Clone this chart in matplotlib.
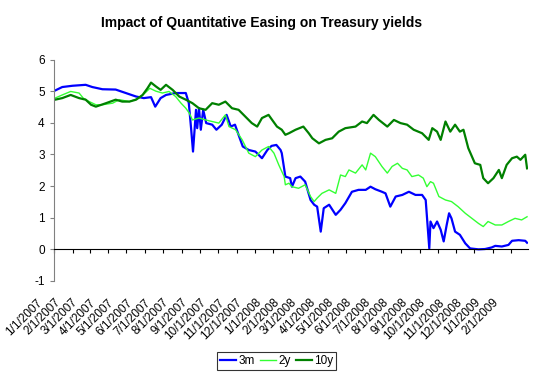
import matplotlib
matplotlib.use("Agg")
import matplotlib.pyplot as plt
import matplotlib.dates as mdates
import matplotlib.transforms as mtransforms
import pandas as pd

# ─────────────────────────────────────────────
# Dados
# ─────────────────────────────────────────────

dates_3m = [
    "2007-01-02", "2007-01-14", "2007-01-31", "2007-02-22", "2007-03-05", "2007-03-22",
    "2007-04-13", "2007-04-30", "2007-05-17", "2007-05-30", "2007-06-11", "2007-06-18",
    "2007-06-27", "2007-07-06", "2007-07-22", "2007-08-08", "2007-08-13", "2007-08-17",
    "2007-08-20", "2007-08-25", "2007-08-27", "2007-08-30", "2007-09-02", "2007-09-06",
    "2007-09-11", "2007-09-21", "2007-09-28", "2007-10-07", "2007-10-15", "2007-10-22",
    "2007-10-29", "2007-11-06", "2007-11-11", "2007-11-21", "2007-12-02", "2007-12-13",
    "2007-12-22", "2007-12-29", "2008-01-06", "2008-01-13", "2008-01-15", "2008-01-21",
    "2008-01-29", "2008-02-01", "2008-02-07", "2008-02-15", "2008-02-23", "2008-03-03",
    "2008-03-09", "2008-03-14", "2008-03-20", "2008-03-25", "2008-04-03", "2008-04-14",
    "2008-04-22", "2008-04-30", "2008-05-11", "2008-05-22", "2008-06-03", "2008-06-11",
    "2008-06-19", "2008-06-30", "2008-07-06", "2008-07-14", "2008-07-23", "2008-08-03",
    "2008-08-14", "2008-08-25", "2008-09-05", "2008-09-11", "2008-09-17", "2008-09-19",
    "2008-09-24", "2008-09-30", "2008-10-06", "2008-10-11", "2008-10-16", "2008-10-20",
    "2008-10-24", "2008-10-30", "2008-11-07", "2008-11-16", "2008-11-24", "2008-12-08",
    "2008-12-19", "2008-12-30", "2009-01-05", "2009-01-16", "2009-01-27", "2009-02-02",
    "2009-02-13", "2009-02-24", "2009-02-27",
]
yield_3m = [
    5.02, 5.13, 5.17, 5.20, 5.13, 5.06,
    5.05, 4.94, 4.83, 4.78, 4.81, 4.51,
    4.78, 4.88, 4.94, 4.94, 4.62, 3.78,
    3.09, 4.41, 3.83, 4.46, 3.78, 4.41,
    3.99, 3.94, 3.78, 3.94, 4.25, 3.88,
    3.94, 3.51, 3.25, 3.14, 3.09, 2.88,
    3.14, 3.27, 3.30, 3.14, 3.04, 2.30,
    2.25, 1.98, 2.25, 2.30, 2.14, 1.56,
    1.41, 1.35, 0.56, 1.30, 1.41, 1.09,
    1.25, 1.46, 1.82, 1.88, 1.88, 1.98,
    1.90, 1.82, 1.77, 1.35, 1.67, 1.72,
    1.82, 1.72, 1.72, 1.56, 0.03, 0.88,
    0.67, 0.88, 0.62, 0.25, 0.77, 1.14,
    0.98, 0.56, 0.46, 0.19, 0.03, 0.00,
    0.01, 0.06, 0.11, 0.09, 0.14, 0.27,
    0.29, 0.27, 0.21,
]

dates_2y = [
    "2007-01-02", "2007-01-14", "2007-01-28", "2007-02-11", "2007-02-18", "2007-02-28",
    "2007-03-11", "2007-03-22", "2007-04-08", "2007-04-19", "2007-05-06", "2007-05-22",
    "2007-06-02", "2007-06-09", "2007-06-19", "2007-06-30", "2007-07-11", "2007-07-22",
    "2007-07-31", "2007-08-08", "2007-08-14", "2007-08-19", "2007-08-30", "2007-09-10",
    "2007-09-21", "2007-10-02", "2007-10-13", "2007-10-19", "2007-10-30", "2007-11-10",
    "2007-11-21", "2007-12-02", "2007-12-13", "2007-12-24", "2008-01-02", "2008-01-10",
    "2008-01-19", "2008-01-21", "2008-01-27", "2008-02-01", "2008-02-12", "2008-02-23",
    "2008-03-03", "2008-03-09", "2008-03-14", "2008-03-22", "2008-04-03", "2008-04-14",
    "2008-04-22", "2008-04-30", "2008-05-06", "2008-05-17", "2008-05-28", "2008-06-03",
    "2008-06-11", "2008-06-19", "2008-06-30", "2008-07-09", "2008-07-17", "2008-07-26",
    "2008-08-03", "2008-08-11", "2008-08-19", "2008-08-30", "2008-09-07", "2008-09-13",
    "2008-09-19", "2008-09-24", "2008-10-03", "2008-10-14", "2008-10-24", "2008-11-04",
    "2008-11-16", "2008-11-27", "2008-12-08", "2008-12-16", "2008-12-24", "2009-01-05",
    "2009-01-16", "2009-01-27", "2009-02-07", "2009-02-18", "2009-02-27",
]
yield_2y = [
    4.78, 4.88, 4.99, 4.94, 4.78, 4.67,
    4.57, 4.57, 4.62, 4.73, 4.67, 4.78,
    4.96, 5.09, 5.00, 4.94, 4.99, 4.83,
    4.62, 4.46, 4.30, 4.09, 4.15, 4.09,
    4.04, 3.99, 4.25, 3.88, 3.78, 3.46,
    3.04, 2.93, 3.14, 3.25, 3.04, 2.67,
    2.30, 2.04, 2.09, 1.98, 1.93, 2.04,
    1.67, 1.51, 1.62, 1.77, 1.88, 1.77,
    2.35, 2.30, 2.51, 2.41, 2.67, 2.51,
    3.04, 2.93, 2.62, 2.41, 2.62, 2.72,
    2.56, 2.51, 2.30, 2.35, 2.25, 1.98,
    2.14, 2.09, 1.67, 1.56, 1.51, 1.35,
    1.14, 0.98, 0.82, 0.72, 0.88, 0.77,
    0.77, 0.88, 0.98, 0.93, 1.03,
]

dates_10y = [
    "2007-01-02", "2007-01-14", "2007-01-28", "2007-02-11", "2007-02-22", "2007-03-03",
    "2007-03-11", "2007-03-28", "2007-04-13", "2007-04-24", "2007-05-06", "2007-05-17",
    "2007-05-28", "2007-06-05", "2007-06-11", "2007-06-19", "2007-06-27", "2007-07-06",
    "2007-07-17", "2007-07-28", "2007-08-08", "2007-08-19", "2007-08-30", "2007-09-10",
    "2007-09-21", "2007-10-02", "2007-10-13", "2007-10-24", "2007-11-04", "2007-11-15",
    "2007-11-26", "2007-12-05", "2007-12-13", "2007-12-24", "2007-12-30", "2008-01-07",
    "2008-01-15", "2008-01-21", "2008-01-27", "2008-02-07", "2008-02-20", "2008-02-29",
    "2008-03-06", "2008-03-17", "2008-03-28", "2008-04-08", "2008-04-19", "2008-04-30",
    "2008-05-17", "2008-05-28", "2008-06-05", "2008-06-16", "2008-06-25", "2008-07-09",
    "2008-07-20", "2008-07-31", "2008-08-11", "2008-08-22", "2008-09-05", "2008-09-16",
    "2008-09-22", "2008-09-30", "2008-10-06", "2008-10-14", "2008-10-22", "2008-10-30",
    "2008-11-07", "2008-11-13", "2008-11-21", "2008-12-02", "2008-12-11", "2008-12-16",
    "2008-12-24", "2009-01-02", "2009-01-11", "2009-01-16", "2009-01-24", "2009-02-02",
    "2009-02-10", "2009-02-16", "2009-02-24", "2009-02-27",
]
yield_10y = [
    4.73, 4.78, 4.88, 4.78, 4.73, 4.57,
    4.51, 4.62, 4.73, 4.67, 4.67, 4.73,
    4.88, 5.09, 5.27, 5.15, 5.04, 5.20,
    5.04, 4.83, 4.73, 4.62, 4.46, 4.41,
    4.62, 4.57, 4.67, 4.46, 4.41, 4.20,
    3.99, 3.88, 4.15, 4.25, 4.09, 3.88,
    3.78, 3.62, 3.67, 3.78, 3.88, 3.67,
    3.51, 3.35, 3.46, 3.51, 3.72, 3.83,
    3.88, 4.04, 3.99, 4.25, 4.09, 3.88,
    4.09, 3.99, 3.94, 3.78, 3.67, 3.46,
    3.83, 3.72, 3.46, 4.04, 3.72, 3.94,
    3.72, 3.78, 3.20, 2.72, 2.67, 2.25,
    2.09, 2.25, 2.51, 2.25, 2.67, 2.88,
    2.93, 2.83, 2.99, 2.56,
]

series = [
    ("3m", dates_3m, yield_3m, "#0000FF", 1.6),
    ("2y", dates_2y, yield_2y, "#33FF33", 1.0),
    ("10y", dates_10y, yield_10y, "#008000", 1.6),
]

x_start, x_end = "2007-01-01", "2009-02-28"
y_ticks = [-1, 0, 1, 2, 3, 4, 5, 6]

# ─────────────────────────────────────────────
# Gráfico
# ─────────────────────────────────────────────

plt.rcParams["font.family"] = ["Liberation Sans", "DejaVu Sans"]
plt.rcParams["axes.unicode_minus"] = False

fig = plt.figure(figsize=(5.47, 3.74), dpi=100)
ax = fig.add_axes([0.0996, 0.2487, 0.8650, 0.5922])

for name, dates, values, color, lw in series:
    ax.plot(pd.to_datetime(dates), values, color=color, lw=lw, label=name)

ax.set_xlim(pd.Timestamp(x_start), pd.Timestamp(x_end))
ax.set_ylim(-1, 6)
ax.set_yticks(y_ticks)

ax.xaxis.set_major_locator(mdates.MonthLocator())
ax.xaxis.set_major_formatter(
    plt.FuncFormatter(lambda v, pos: "{d.month}/1/{d.year}".format(d=mdates.num2date(v)))
)

# eixo x cruzando em zero, rótulos embaixo
ax.spines["bottom"].set_position(("data", 0))
ax.spines["bottom"].set_color("black")
ax.spines["left"].set_color("#808080")
ax.spines["top"].set_visible(False)
ax.spines["right"].set_visible(False)

ax.tick_params(axis="x", direction="out", length=3, width=0.8, color="black",
               labelsize=8.5, pad=31)
ax.tick_params(axis="y", direction="out", length=3, width=0.8, color="#808080",
               labelsize=8.5, pad=4)

shift = mtransforms.ScaledTranslation(-10 / 100, 0, fig.dpi_scale_trans)
for lbl in ax.get_xticklabels():
    lbl.set_rotation(45)
    lbl.set_ha("right")
    lbl.set_transform(lbl.get_transform() + shift)

fig.text(0.478, 1 - 23 / 374, "Impact of Quantitative Easing on Treasury yields",
         ha="center", va="center", fontsize=10, fontweight="bold")

leg = fig.legend(loc="center", bbox_to_anchor=(0.506, 0.035), ncol=3, fontsize=8.5,
                 frameon=True, fancybox=False, handlelength=1.3, handletextpad=0.2,
                 columnspacing=0.5, borderpad=0.25)
leg.get_frame().set_edgecolor("black")
leg.get_frame().set_linewidth(0.8)

plt.savefig("out.png", dpi=100)
plt.close()
